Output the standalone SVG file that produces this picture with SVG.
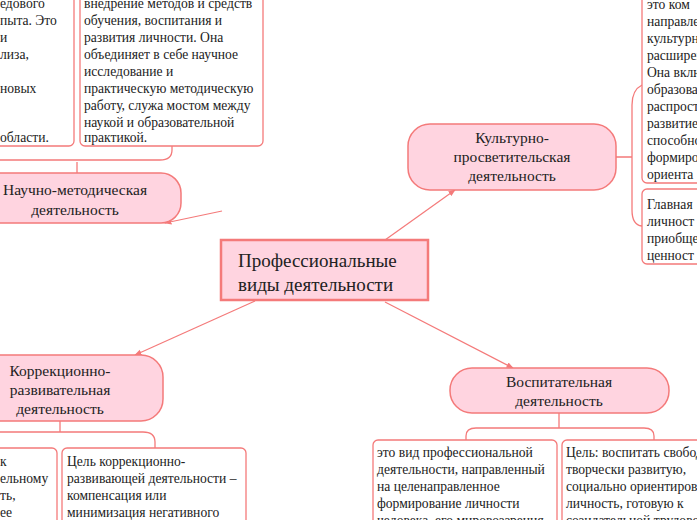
<svg xmlns="http://www.w3.org/2000/svg" width="697" height="520" viewBox="0 0 697 520">
<style>
text{font-family:"Liberation Serif","DejaVu Serif",serif;fill:#222}
.leaf{fill:#fff;stroke:#f47a7a;stroke-width:1.3}
.topic{fill:#ffd4e0;stroke:#f47a7a;stroke-width:1.5}
.lt{font-size:13.6px}
.tt{font-size:15.5px;text-anchor:middle}
.br{fill:none;stroke:#f47a7a;stroke-width:1.3}
.cn{fill:none;stroke:#f47a7a;stroke-width:1.2;marker-end:url(#ah)}
</style>
<defs><marker id="ah" viewBox="0 0 10 10" refX="9" refY="5" markerWidth="6" markerHeight="6" orient="auto"><path d="M0,1 L10,5 L0,9 z" fill="#f47a7a"/></marker></defs>
<rect width="697" height="520" fill="#fff"/>
<g id="connectors">
<path class="cn" d="M222,211 L165,223"/>
<path class="cn" d="M385,240 L455,190"/>
<path class="cn" d="M255,301 L135,355"/>
<path class="cn" d="M385,302 L513,368"/>
<path class="br" d="M77,173 V162 M0,160 H160 Q172,160 172,150 V146"/>
<path class="br" d="M616,157 H632 M642,85 Q632,90 632,105 V210 Q632,225 642,226"/>
<path class="br" d="M60,421 V432 M0,432 H143 Q155,432 155,442 V448"/>
<path class="br" d="M559,413 V428 M466,440 V436 Q466,428 476,428 H644 Q654,428 654,436 V440"/>
</g>
<g id="center"><rect x="221" y="240" width="207" height="60" fill="#ffd4e0" stroke="#f47a7a" stroke-width="2.5"/><text x="238" y="267" font-size="19">Профессиональные</text><text x="238" y="291" font-size="19">виды деятельности</text></g>
<g id="nm-leaf1"><rect class="leaf" x="-10" y="-10" width="84" height="156" rx="5"/>
<text class="lt" x="0" y="8">едового</text><text class="lt" x="0" y="25">пыта. Это</text><text class="lt" x="0" y="42">и</text><text class="lt" x="0" y="59">лиза,</text><text class="lt" x="0" y="93">новых</text><text class="lt" x="0" y="142">области.</text></g>
<g id="nm-leaf2"><rect class="leaf" x="80" y="-10" width="183" height="156" rx="5"/>
<text class="lt" x="84" y="8">внедрение методов и средств</text><text class="lt" x="84" y="25">обучения, воспитания и</text><text class="lt" x="84" y="42">развития личности. Она</text><text class="lt" x="84" y="59">объединяет в себе научное</text><text class="lt" x="84" y="76">исследование и</text><text class="lt" x="84" y="93">практическую методическую</text><text class="lt" x="84" y="110">работу, служа мостом между</text><text class="lt" x="84" y="127">наукой и образовательной</text><text class="lt" x="84" y="142">практикой.</text></g>
<g id="nm"><rect class="topic" x="-20" y="173" width="201" height="50" rx="20"/><text class="tt" x="75" y="195">Научно-методическая</text><text class="tt" x="75" y="215">деятельность</text></g>
<g id="kp"><rect class="topic" x="408" y="124" width="208" height="66" rx="22"/><text class="tt" x="512" y="143">Культурно-</text><text class="tt" x="512" y="162">просветительская</text><text class="tt" x="512" y="181">деятельность</text></g>
<g id="kp-leaf1"><rect class="leaf" x="642" y="-10" width="70" height="193" rx="5"/>
<text class="lt" x="647" y="9"> это ком</text><text class="lt" x="647" y="26">направле</text><text class="lt" x="647" y="43">культурн</text><text class="lt" x="647" y="60">расширен</text><text class="lt" x="647" y="77">Она вклю</text><text class="lt" x="647" y="94">образова</text><text class="lt" x="647" y="111">распрост</text><text class="lt" x="647" y="128">развитие</text><text class="lt" x="647" y="145">способно</text><text class="lt" x="647" y="162">формиро</text><text class="lt" x="647" y="179">ориента</text></g>
<g id="kp-leaf2"><rect class="leaf" x="642" y="189" width="70" height="75" rx="5"/>
<text class="lt" x="647" y="209">Главная</text><text class="lt" x="647" y="226">личност</text><text class="lt" x="647" y="243">приобще</text><text class="lt" x="647" y="260">ценност</text></g>
<g id="kr"><rect class="topic" x="-20" y="355" width="183" height="66" rx="22"/><text class="tt" x="60" y="376">Коррекционно-</text><text class="tt" x="60" y="395">развивательная</text><text class="tt" x="60" y="414">деятельность</text></g>
<g id="kr-leaf1"><rect class="leaf" x="-10" y="448" width="67" height="90" rx="5"/>
<text class="lt" x="0" y="466">к</text><text class="lt" x="0" y="483">ельному</text><text class="lt" x="0" y="500">ть,</text><text class="lt" x="0" y="517">ее</text></g>
<g id="kr-leaf2"><rect class="leaf" x="62" y="448" width="184" height="90" rx="5"/>
<text class="lt" x="67" y="466">Цель коррекционно-</text><text class="lt" x="67" y="483">развивающей деятельности –</text><text class="lt" x="67" y="500">компенсация или</text><text class="lt" x="67" y="517">минимизация негативного</text></g>
<g id="vd"><rect class="topic" x="450" y="368" width="219" height="45" rx="22"/><text class="tt" x="559" y="387">Воспитательная</text><text class="tt" x="559" y="406">деятельность</text></g>
<g id="vd-leaf1"><rect class="leaf" x="373" y="440" width="184" height="100" rx="5"/>
<text class="lt" x="377" y="457">это вид профессиональной</text><text class="lt" x="377" y="474">деятельности, направленный</text><text class="lt" x="377" y="491">на целенаправленное</text><text class="lt" x="377" y="508">формирование личности</text><text class="lt" x="377" y="525">человека, его мировоззрения</text></g>
<g id="vd-leaf2"><rect class="leaf" x="562" y="440" width="150" height="100" rx="5"/>
<text class="lt" x="566" y="457">Цель: воспитать свободную,</text><text class="lt" x="566" y="474">творчески развитую,</text><text class="lt" x="566" y="491">социально ориентированную</text><text class="lt" x="566" y="508">личность, готовую к</text><text class="lt" x="566" y="525">созидательной трудовой</text></g>
</svg>
